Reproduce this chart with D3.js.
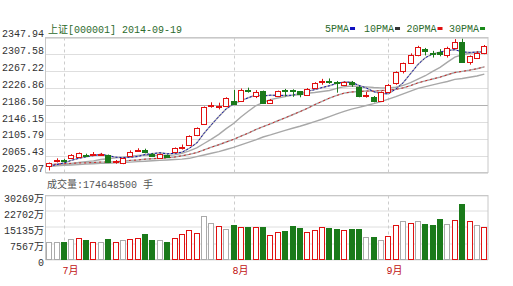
<!DOCTYPE html>
<html><head><meta charset="utf-8">
<script src="https://cdn.jsdelivr.net/npm/d3@7/dist/d3.min.js"></script>
<style>
body{margin:0;background:#fff}
svg{display:block}
text{font-family:"Liberation Mono","Noto Sans CJK SC",monospace;font-size:10px}
</style>
</head><body>
<svg id="c" width="513" height="286"></svg>
<script>
const dates = ["06-27","06-30",
"07-01","07-02","07-03","07-04","07-07","07-08","07-09","07-10","07-11","07-14","07-15","07-16","07-17","07-18","07-21","07-22","07-23","07-24","07-25","07-28","07-29","07-30","07-31",
"08-01","08-04","08-05","08-06","08-07","08-08","08-11","08-12","08-13","08-14","08-15","08-18","08-19","08-20","08-21","08-22","08-25","08-26","08-27","08-28","08-29",
"09-01","09-02","09-03","09-04","09-05","09-09","09-10","09-11","09-12","09-15","09-16","09-17","09-18","09-19"];
const opens  = [2041,2052,2055,2060,2063,2068,2068,2067,2067,2049,2048,2064,2077,2079,2070,2060,2066,2074,2085,2091,2115,2142,2183,2183,2185,2196,2197,2222,2207,2219,2192,2209,2222,2222,2219,2211,2228,2243,2244,2242,2235,2242,2230,2208,2206,2197,2218,2238,2267,2288,2306,2320,2312,2314,2307,2324,2338,2290,2300,2312];
const highs  = [2049,2059,2057,2069,2073,2070,2074,2072,2068,2055,2060,2078,2083,2082,2072,2070,2068,2085,2092,2114,2133,2183,2193,2192,2205,2223,2226,2228,2222,2221,2201,2221,2225,2224,2220,2227,2241,2249,2250,2244,2243,2244,2232,2218,2208,2219,2237,2267,2288,2310,2328,2323,2316,2320,2326,2344,2345,2305,2315,2330];
const lows   = [2030,2049,2049,2058,2060,2063,2066,2065,2048,2046,2045,2062,2075,2071,2062,2058,2060,2072,2080,2089,2112,2140,2180,2176,2183,2186,2194,2216,2203,2189,2189,2207,2207,2206,2205,2209,2225,2235,2237,2216,2232,2230,2205,2204,2193,2195,2215,2235,2262,2285,2303,2305,2300,2303,2300,2320,2288,2283,2297,2308];
const closes = [2047,2056,2054,2067,2071,2065,2070,2070,2051,2053,2059,2075,2079,2074,2064,2069,2063,2084,2087,2112,2131,2181,2186,2185,2203,2189,2222,2220,2218,2191,2199,2219,2220,2220,2212,2225,2239,2245,2242,2240,2241,2236,2208,2211,2196,2217,2235,2265,2286,2305,2326,2316,2310,2308,2324,2336,2290,2303,2312,2327];
const volumes = [8200,8200,8200,9600,10400,9130,8200,8200,9600,8200,9130,9930,10400,11970,9130,9130,8200,10400,11970,14030,12300,20500,17350,15920,14190,16400,15140,15140,15450,15140,11400,12800,13400,15700,14700,12850,14100,15500,14800,14350,13800,14350,14350,10700,10700,9400,11000,16500,18300,17400,18300,16900,16500,19200,16900,18700,26400,18300,16500,15300];
const volColors = ["k","k","g","k","r","g","r","k","g","r","k","r","r","g","g","k","g","r","r","r","r","k","k","r","k","g","r","g","r","g","r","r","g","g","g","r","r","r","g","g","r","g","g","k","g","k","r","r","k","r","k","g","g","g","k","r","g","r","k","r"];
const ma5  = [2040,2044,2048,2054,2059,2062.6,2065.4,2068.6,2065.4,2061.8,2060.6,2061.6,2063.4,2068,2070.2,2072.2,2069.8,2070.8,2073.4,2083,2095.4,2119,2139.4,2159,2177.2,2188.8,2197,2203.8,2210.4,2208,2210,2209.4,2209.4,2209.8,2214,2219.2,2223.2,2228.2,2232.6,2238.2,2241.4,2240.8,2233.4,2227.2,2218.4,2213.6,2213.4,2224.8,2239.8,2261.6,2283.4,2299.6,2308.6,2313,2316.8,2318.8,2313.6,2312.2,2313,2313.6];
const ma10 = [2040,2042,2044,2046,2049,2051,2053,2056,2058,2060.4,2061.6,2063.5,2066,2066.7,2066,2066.4,2065.7,2067.1,2070.7,2076.6,2083.8,2094.4,2105.1,2116.2,2130.1,2142.1,2158,2171.6,2184.7,2192.6,2199.4,2203.2,2206.6,2210.1,2211,2214.6,2216.3,2218.8,2221.2,2226.1,2230.3,2232,2230.8,2229.9,2228.3,2227.5,2227.1,2229.1,2233.5,2240,2248.5,2256.5,2266.7,2276.4,2289.2,2301.1,2306.6,2310.4,2313,2315.2];
const ma20 = [2044,2045,2046,2047,2048,2048,2049,2050,2050,2051,2052,2054,2055,2057,2058,2059,2060,2062,2065,2068.5,2072.7,2079,2085.6,2091.5,2098,2104.3,2111.9,2119.4,2127.7,2134.6,2141.6,2148.8,2155.9,2163.2,2170.6,2178.4,2187.2,2195.2,2203,2209.4,2214.9,2217.6,2218.7,2220,2219.7,2221.1,2221.7,2224,2227.4,2233,2239.4,2244.3,2248.8,2253.2,2258.8,2264.3,2266.9,2269.8,2273.3,2277.6];
const ma30 = [2040,2041,2042,2043,2044,2045,2046,2047,2047,2048,2049,2050,2051,2052,2053,2054,2055,2056,2057,2059,2063,2067,2071,2075,2080,2085,2091,2097,2103,2109.9,2114.9,2120.4,2125.9,2131,2135.7,2141,2146.7,2152.5,2158.9,2165.1,2171.2,2176.5,2180.8,2185.4,2189.8,2194.7,2200.5,2206.5,2213.1,2219.6,2226.1,2230.6,2234.7,2238.8,2242.8,2247.7,2250,2252.8,2255.9,2260.4];
const priceTicks = [2025.07,2065.43,2105.79,2146.15,2186.50,2226.86,2267.22,2307.58,2347.94];
const volTicks = [0,7567,15135,22702,30269];
const volTickLabels = ["0","7567万","15135万","22702万","30269万"];
const monthStarts = ["07-01","08-01","09-01"];
const monthLabels = ["7月","8月","9月"];
const legendNames = ["5PMA","10PMA","20PMA","30PMA"];
const legendColors = ["#1010c0","#333333","#e01010","#1a8a1a"];
const titleText = "上证[000001] 2014-09-19";
const volTitle = "成交量:174648500 手";

const svg = d3.select("#c");
const L = 45.5, R = 488;
const x = d3.scaleBand().domain(dates).range([L, R]).paddingInner(0.2).paddingOuter(0.1);
const y = d3.scaleLinear().domain([2025.07, 2347.94]).range([172.5, 37.5]);
const yv = d3.scaleLinear().domain([0, 30269]).range([259.5, 195.5]);
const bw = x.bandwidth();
const cx = d => Math.round(x(d) + bw / 2) + 0.5;

const UP = "#e01010", DN = "#1a7a1a", GR = "#aaaaaa";

// price grid
const gp = svg.append("g");
gp.selectAll("line.h").data(priceTicks).join("line")
  .attr("x1", L).attr("x2", R)
  .attr("y1", d => Math.round(y(d)) + 0.5).attr("y2", d => Math.round(y(d)) + 0.5)
  .attr("stroke", (d, i) => i === 4 ? "#b0b0b0" : "#dedede");
gp.selectAll("line.v").data(monthStarts).join("line")
  .attr("x1", d => cx(d)).attr("x2", d => cx(d))
  .attr("y1", 37.5).attr("y2", 172.5)
  .attr("stroke", "#cccccc").attr("stroke-dasharray", "3,3");
gp.append("rect").attr("x", L).attr("y", 37.5).attr("width", R - L).attr("height", 135)
  .attr("fill", "none").attr("stroke", "#c8c8c8");

// price axis labels
svg.append("g").selectAll("text").data(priceTicks).join("text")
  .attr("x", 44).attr("y", d => y(d) - 3).attr("text-anchor", "end").attr("dominant-baseline", "middle")
  .attr("fill", "#333").text(d => d.toFixed(2));

// MA lines
const idx = d3.range(dates.length);
const lineOf = arr => d3.line().x(i => x(dates[i]) + bw / 2).y(i => y(arr[i]))(idx);
[ma30, ma20, ma10, ma5].forEach(a => {
  svg.append("path").attr("d", lineOf(a)).attr("fill", "none").attr("stroke", "#a8a8a8").attr("stroke-width", 1.4);
});
svg.append("path").attr("d", lineOf(ma20)).attr("fill", "none").attr("stroke", "#d02020").attr("stroke-width", 1).attr("stroke-dasharray", "2,3");
svg.append("path").attr("d", lineOf(ma5)).attr("fill", "none").attr("stroke", "#1010b0").attr("stroke-width", 1).attr("stroke-dasharray", "2,2");

// candles
const cg = svg.append("g");
idx.forEach(i => {
  const d = dates[i];
  const up = closes[i] >= opens[i];
  const col = up ? UP : DN;
  const c = cx(d);
  cg.append("line").attr("x1", c).attr("x2", c).attr("y1", y(highs[i])).attr("y2", y(lows[i])).attr("stroke", col);
  const top = Math.round(y(Math.max(opens[i], closes[i])));
  const bot = Math.round(y(Math.min(opens[i], closes[i])));
  const h = Math.max(1, bot - top);
  cg.append("rect").attr("x", Math.round(x(d)) + 0.5).attr("y", top + 0.5)
    .attr("width", Math.round(bw) - 1).attr("height", h)
    .attr("fill", up ? "#fff" : DN).attr("stroke", col).attr("shape-rendering", "crispEdges");
});

// title & legend
svg.append("text").attr("x", 48).attr("y", 33).attr("fill", "#2d6b2d").attr("font-size", 10.5).text(titleText);
const legendX = [325, 364, 406.5, 449];
legendNames.forEach((n, i) => {
  const t = svg.append("text").attr("x", legendX[i]).attr("y", 32).attr("fill", "#2d6b2d").text(n);
  const w = t.node().getComputedTextLength();
  svg.append("rect").attr("x", legendX[i] + w + 1).attr("y", 27).attr("width", 5).attr("height", 3).attr("fill", legendColors[i]);
});

// volume
svg.append("text").attr("x", 47).attr("y", 188).attr("fill", "#555").text(volTitle);
const gv = svg.append("g");
gv.selectAll("line.h").data(volTicks).join("line")
  .attr("x1", L).attr("x2", R)
  .attr("y1", d => Math.round(yv(d))).attr("y2", d => Math.round(yv(d)))
  .attr("stroke", "#dedede");
gv.selectAll("line.v").data(monthStarts).join("line")
  .attr("x1", d => cx(d)).attr("x2", d => cx(d))
  .attr("y1", 195.5).attr("y2", 259.5)
  .attr("stroke", "#cccccc").attr("stroke-dasharray", "3,3");
gv.append("rect").attr("x", L).attr("y", 195.5).attr("width", R - L).attr("height", 64)
  .attr("fill", "none").attr("stroke", "#c8c8c8");
svg.append("g").selectAll("text").data(volTicks).join("text")
  .attr("x", 44).attr("y", d => yv(d) + 3.5).attr("text-anchor", "end").attr("dominant-baseline", "middle")
  .attr("fill", "#333").text((d, i) => volTickLabels[i]);
const vcol = {r: UP, g: DN, k: GR};
svg.append("g").selectAll("rect").data(idx).join("rect")
  .attr("x", i => Math.round(x(dates[i])) + 0.5)
  .attr("y", i => Math.round(yv(volumes[i])) + 0.5)
  .attr("width", Math.round(bw) - 1)
  .attr("height", i => 259 - Math.round(yv(volumes[i])))
  .attr("fill", i => volColors[i] === "g" ? DN : "#fff")
  .attr("stroke", i => vcol[volColors[i]]).attr("shape-rendering", "crispEdges");

// month labels
svg.append("g").selectAll("text").data(monthStarts).join("text")
  .attr("x", d => cx(d) - 2).attr("y", 274).attr("fill", "#c01010").text((d, i) => monthLabels[i]);
</script>
</body></html>
